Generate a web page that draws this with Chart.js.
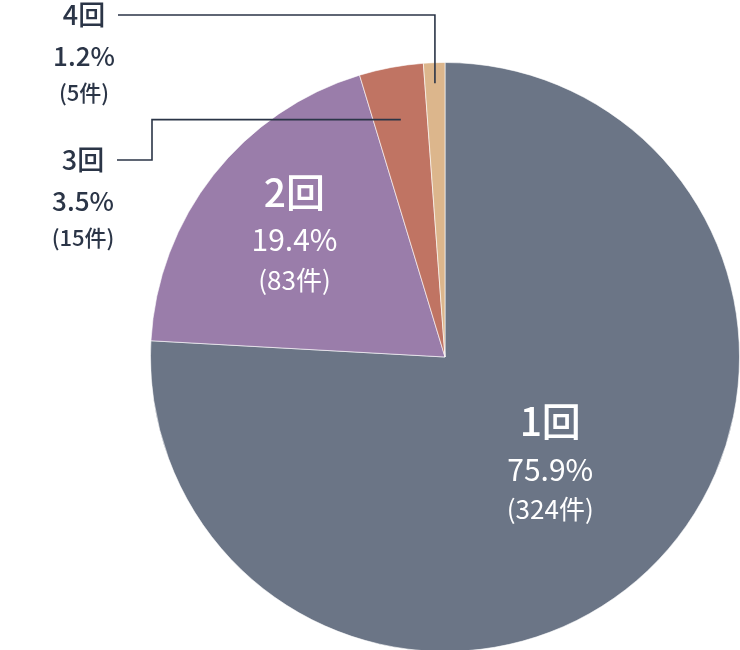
<!DOCTYPE html>
<html>
<head>
<meta charset="utf-8">
<script src="https://cdn.jsdelivr.net/npm/chart.js@4/dist/chart.umd.min.js"></script>
<style>
html,body{margin:0;padding:0;background:#fff;overflow:hidden;width:740px;height:650px;}
canvas{display:block;}
</style>
</head>
<body>
<canvas id="c" width="740" height="700"></canvas>
<script>
const categories = ['1回', '2回', '3回', '4回'];
const counts = [324, 83, 15, 5];
const percents = [75.9, 19.4, 3.5, 1.2];
const colors = ['#6b7586', '#9a7daa', '#c07463', '#dcb68c'];

const FONT = '"Noto Sans CJK JP", "Noto Sans", sans-serif';
const DARK = '#2b3547';

// label layout config (inside: radius factor; outside: anchor factor + text column)
const labelCfg = [
  {inside: true, f: 0.52},
  {inside: true, f: 0.65},
  {inside: false, f: 0.82, textX: 83, textY: 160, elbowX: 152},
  {inside: false, f: 0.93, textX: 84, textY: 15}
];

const labelPlugin = {
  id: 'labels',
  afterDatasetsDraw(chart) {
    const ctx = chart.ctx;
    const meta = chart.getDatasetMeta(0);
    meta.data.forEach((arc, i) => {
      const p = arc.getProps(['x', 'y', 'startAngle', 'endAngle', 'outerRadius'], true);
      const mid = (p.startAngle + p.endAngle) / 2;
      const cfg = labelCfg[i];
      const ax = p.x + Math.cos(mid) * p.outerRadius * cfg.f;
      const ay = p.y + Math.sin(mid) * p.outerRadius * cfg.f;
      const pct = percents[i].toFixed(1) + '%';
      const cnt = '(' + counts[i] + '件)';
      ctx.save();
      ctx.textAlign = 'center';
      ctx.textBaseline = 'middle';
      if (cfg.inside) {
        ctx.fillStyle = '#ffffff';
        ctx.font = '500 39px ' + FONT;
        ctx.fillText(categories[i], ax, ay - 47);
        ctx.font = '400 30px ' + FONT;
        ctx.fillText(pct, ax, ay + 1);
        ctx.font = '400 26px ' + FONT;
        ctx.fillText(cnt, ax, ay + 41);
      } else {
        ctx.strokeStyle = DARK;
        ctx.lineWidth = 1.6;
        ctx.beginPath();
        const lx = cfg.textX + 34;
        if (cfg.elbowX) {
          ctx.moveTo(lx, cfg.textY);
          ctx.lineTo(cfg.elbowX, cfg.textY);
          ctx.lineTo(cfg.elbowX, ay);
          ctx.lineTo(ax, ay);
        } else {
          ctx.moveTo(lx, cfg.textY);
          ctx.lineTo(ax, cfg.textY);
          ctx.lineTo(ax, ay);
        }
        ctx.stroke();
        ctx.fillStyle = DARK;
        ctx.font = '500 27px ' + FONT;
        ctx.fillText(categories[i], cfg.textX, cfg.textY);
        ctx.font = '500 26px ' + FONT;
        ctx.fillText(pct, cfg.textX, cfg.textY + 41);
        ctx.font = '500 22px ' + FONT;
        ctx.fillText(cnt, cfg.textX, cfg.textY + 78);
      }
      ctx.restore();
    });
  }
};

new Chart(document.getElementById('c'), {
  type: 'pie',
  data: {
    labels: categories,
    datasets: [{
      data: counts,
      backgroundColor: colors,
      borderColor: 'rgba(255,255,255,0.6)',
      borderWidth: 1
    }]
  },
  options: {
    responsive: false,
    animation: false,
    layout: {padding: {left: 150, top: 62, right: 0, bottom: 48}},
    plugins: {legend: {display: false}, tooltip: {enabled: false}}
  },
  plugins: [labelPlugin]
});
</script>
</body>
</html>
